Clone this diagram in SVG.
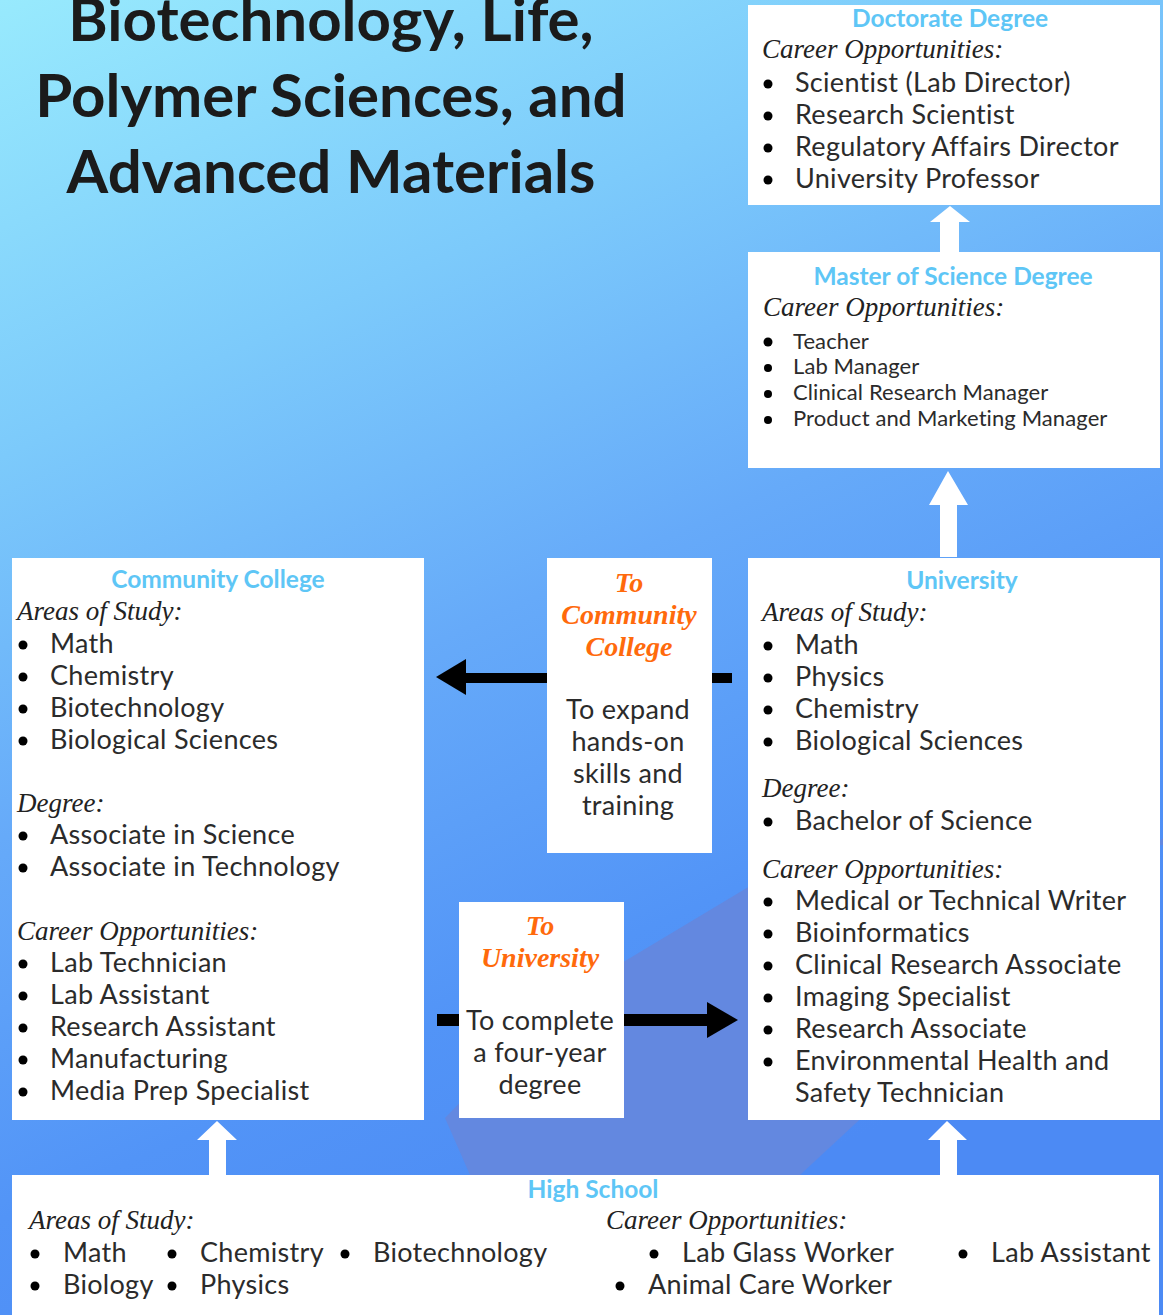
<svg xmlns="http://www.w3.org/2000/svg" width="1163" height="1315" viewBox="0 0 1163 1315">
<defs>
<linearGradient id="bg" x1="0" y1="0" x2="0.4" y2="1">
<stop offset="0" stop-color="#98eafd"/>
<stop offset="0.3" stop-color="#7ccafb"/>
<stop offset="0.55" stop-color="#66aaf9"/>
<stop offset="0.8" stop-color="#5294f7"/>
<stop offset="1" stop-color="#4c8af4"/>
</linearGradient>
<style>
.box{fill:#ffffff}
.title{font-family:Lato,"Open Sans",sans-serif;font-weight:700;font-size:60px;fill:#1b1b1b;text-anchor:middle}
.hd{font-family:Lato,"Open Sans",sans-serif;font-weight:700;font-size:24.5px;fill:#5ec6f6;text-anchor:middle}
.lbl{font-family:"Liberation Serif",serif;font-style:italic;font-size:27px;fill:#222222}
.it{font-family:Lato,"Open Sans",sans-serif;font-size:27px;letter-spacing:0.3px;fill:#2b2b2b}
.sm{font-size:22px;letter-spacing:0.1px}
.or{font-family:"Liberation Serif",serif;font-style:italic;font-weight:700;font-size:28px;fill:#ff6a0c;text-anchor:middle}
.ct{font-family:Lato,"Open Sans",sans-serif;font-size:27px;letter-spacing:0.3px;fill:#2b2b2b;text-anchor:middle}
.bul{fill:#000000}
.wa{fill:#ffffff}
.ba{fill:#000000}
</style>
</defs>
<rect x="0" y="0" width="1163" height="1315" fill="url(#bg)"/>
<polygon points="470,1175 445,1118 560,1000 760,880 1163,845 1163,838 800,1175" fill="#6388e0"/>

<text class="title" x="331" y="41">Biotechnology, Life,</text>
<text class="title" x="331" y="117">Polymer Sciences, and</text>
<text class="title" x="331" y="193">Advanced Materials</text>

<g id="connectors">
<polygon class="wa" points="950,206 970,222 959,222 959,253 940,253 940,222 930,222"/>
<polygon class="wa" points="948,471 968,505 957,505 957,557 940,557 940,505 929,505"/>
<polygon class="wa" points="217,1121 237,1140 226,1140 226,1176 209,1176 209,1140 197,1140"/>
<polygon class="wa" points="947,1121 967,1140 957,1140 957,1176 940,1176 940,1140 928,1140"/>
<rect class="ba" x="465" y="673" width="267" height="10"/>
<polygon class="ba" points="436,677 466,659 466,695"/>
<rect class="ba" x="437" y="1014" width="272" height="12"/>
<polygon class="ba" points="738,1020 707,1002 707,1038"/>
</g>

<g id="doctorate">
<rect class="box" x="748" y="5" width="412" height="200"/>
<text class="hd" x="950" y="27">Doctorate Degree</text>
<text class="lbl" x="762" y="58">Career Opportunities:</text>
<circle class="bul" cx="768" cy="84" r="4.5"/><text class="it" x="795" y="92">Scientist (Lab Director)</text>
<circle class="bul" cx="768" cy="116" r="4.5"/><text class="it" x="795" y="124">Research Scientist</text>
<circle class="bul" cx="768" cy="148" r="4.5"/><text class="it" x="795" y="156">Regulatory Affairs Director</text>
<circle class="bul" cx="768" cy="180" r="4.5"/><text class="it" x="795" y="188">University Professor</text>
</g>

<g id="master">
<rect class="box" x="748" y="252" width="412" height="216"/>
<text class="hd" x="953" y="285">Master of Science Degree</text>
<text class="lbl" x="763" y="316">Career Opportunities:</text>
<circle class="bul" cx="768" cy="342" r="4.5"/><text class="it sm" x="793" y="349">Teacher</text>
<circle class="bul" cx="768" cy="368" r="4"/><text class="it sm" x="793" y="374">Lab Manager</text>
<circle class="bul" cx="768" cy="394" r="4"/><text class="it sm" x="793" y="400">Clinical Research Manager</text>
<circle class="bul" cx="768" cy="420" r="4"/><text class="it sm" x="793" y="426">Product and Marketing Manager</text>
</g>

<g id="university">
<rect class="box" x="748" y="558" width="412" height="562"/>
<text class="hd" x="962" y="589">University</text>
<text class="lbl" x="762" y="621">Areas of Study:</text>
<circle class="bul" cx="768" cy="646" r="4.5"/><text class="it" x="795" y="654">Math</text>
<circle class="bul" cx="768" cy="678" r="4.5"/><text class="it" x="795" y="686">Physics</text>
<circle class="bul" cx="768" cy="710" r="4.5"/><text class="it" x="795" y="718">Chemistry</text>
<circle class="bul" cx="768" cy="742" r="4.5"/><text class="it" x="795" y="750">Biological Sciences</text>
<text class="lbl" x="762" y="797">Degree:</text>
<circle class="bul" cx="768" cy="822" r="4.5"/><text class="it" x="795" y="830">Bachelor of Science</text>
<text class="lbl" x="762" y="878">Career Opportunities:</text>
<circle class="bul" cx="768" cy="902" r="4.5"/><text class="it" x="795" y="910">Medical or Technical Writer</text>
<circle class="bul" cx="768" cy="934" r="4.5"/><text class="it" x="795" y="942">Bioinformatics</text>
<circle class="bul" cx="768" cy="966" r="4.5"/><text class="it" x="795" y="974">Clinical Research Associate</text>
<circle class="bul" cx="768" cy="998" r="4.5"/><text class="it" x="795" y="1006">Imaging Specialist</text>
<circle class="bul" cx="768" cy="1030" r="4.5"/><text class="it" x="795" y="1038">Research Associate</text>
<circle class="bul" cx="768" cy="1062" r="4.5"/><text class="it" x="795" y="1070">Environmental Health and</text>
<text class="it" x="795" y="1102">Safety Technician</text>
</g>

<g id="community-college">
<rect class="box" x="12" y="558" width="412" height="562"/>
<text class="hd" x="218" y="588">Community College</text>
<text class="lbl" x="17" y="620">Areas of Study:</text>
<circle class="bul" cx="23" cy="645" r="4.5"/><text class="it" x="50" y="653">Math</text>
<circle class="bul" cx="23" cy="677" r="4.5"/><text class="it" x="50" y="685">Chemistry</text>
<circle class="bul" cx="23" cy="709" r="4.5"/><text class="it" x="50" y="717">Biotechnology</text>
<circle class="bul" cx="23" cy="741" r="4.5"/><text class="it" x="50" y="749">Biological Sciences</text>
<text class="lbl" x="17" y="812">Degree:</text>
<circle class="bul" cx="23" cy="836" r="4.5"/><text class="it" x="50" y="844">Associate in Science</text>
<circle class="bul" cx="23" cy="868" r="4.5"/><text class="it" x="50" y="876">Associate in Technology</text>
<text class="lbl" x="17" y="940">Career Opportunities:</text>
<circle class="bul" cx="23" cy="964" r="4.5"/><text class="it" x="50" y="972">Lab Technician</text>
<circle class="bul" cx="23" cy="996" r="4.5"/><text class="it" x="50" y="1004">Lab Assistant</text>
<circle class="bul" cx="23" cy="1028" r="4.5"/><text class="it" x="50" y="1036">Research Assistant</text>
<circle class="bul" cx="23" cy="1060" r="4.5"/><text class="it" x="50" y="1068">Manufacturing</text>
<circle class="bul" cx="23" cy="1092" r="4.5"/><text class="it" x="50" y="1100">Media Prep Specialist</text>
</g>

<g id="to-community-college">
<rect class="box" x="547" y="558" width="165" height="295"/>
<text class="or" x="629" y="592">To</text>
<text class="or" x="629" y="624">Community</text>
<text class="or" x="629" y="656">College</text>
<text class="ct" x="628" y="719">To expand</text>
<text class="ct" x="628" y="751">hands-on</text>
<text class="ct" x="628" y="783">skills and</text>
<text class="ct" x="628" y="815">training</text>
</g>

<g id="to-university">
<rect class="box" x="459" y="902" width="165" height="216"/>
<text class="or" x="540" y="935">To</text>
<text class="or" x="540" y="967">University</text>
<text class="ct" x="540" y="1030">To complete</text>
<text class="ct" x="540" y="1062">a four-year</text>
<text class="ct" x="540" y="1094">degree</text>
</g>

<g id="high-school">
<rect class="box" x="12" y="1175" width="1147" height="140"/>
<text class="hd" x="593" y="1198">High School</text>
<text class="lbl" x="29" y="1229">Areas of Study:</text>
<circle class="bul" cx="35" cy="1254" r="4.5"/><text class="it" x="63" y="1262">Math</text>
<circle class="bul" cx="172" cy="1254" r="4.5"/><text class="it" x="200" y="1262">Chemistry</text>
<circle class="bul" cx="345" cy="1254" r="4.5"/><text class="it" x="373" y="1262">Biotechnology</text>
<circle class="bul" cx="35" cy="1286" r="4.5"/><text class="it" x="63" y="1294">Biology</text>
<circle class="bul" cx="172" cy="1286" r="4.5"/><text class="it" x="200" y="1294">Physics</text>
<text class="lbl" x="606" y="1229">Career Opportunities:</text>
<circle class="bul" cx="654" cy="1254" r="4.5"/><text class="it" x="682" y="1262">Lab Glass Worker</text>
<circle class="bul" cx="963" cy="1254" r="4.5"/><text class="it" x="991" y="1262">Lab Assistant</text>
<circle class="bul" cx="620" cy="1286" r="4.5"/><text class="it" x="648" y="1294">Animal Care Worker</text>
</g>
</svg>
